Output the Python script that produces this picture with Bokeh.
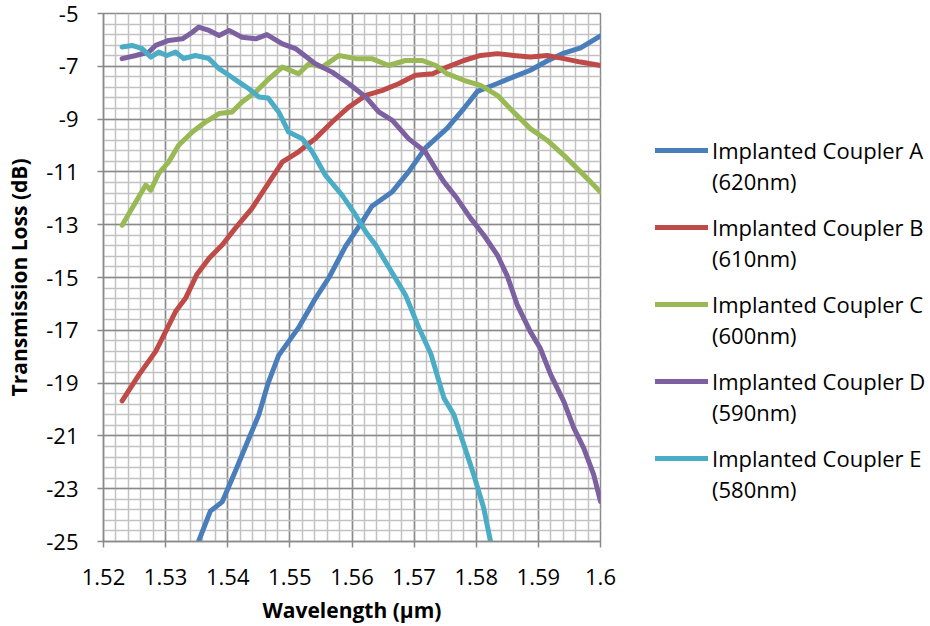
from bokeh.plotting import figure
from bokeh.layouts import row
from bokeh.models import FixedTicker, Legend, LegendItem, Range1d
from bokeh.embed import file_html
from bokeh.resources import INLINE

# ---- data ----
wl_A = [1.5353, 1.5372, 1.5391, 1.5412, 1.5434, 1.5450, 1.5465, 1.5482, 1.5514, 1.5541,
        1.5563, 1.5590, 1.5616, 1.5632, 1.5665, 1.5691, 1.5718, 1.5753, 1.5780, 1.5802,
        1.5834, 1.5860, 1.5887, 1.5914, 1.5941, 1.5968, 1.6000]
loss_A = [-25.0, -23.85, -23.5, -22.35, -21.1, -20.2, -19.0, -17.95, -16.9, -15.8,
          -15.0, -13.8, -12.9, -12.3, -11.75, -11.0, -10.1, -9.35, -8.6, -7.95,
          -7.65, -7.4, -7.15, -6.8, -6.5, -6.3, -5.85]

wl_B = [1.5230, 1.5257, 1.5284, 1.5300, 1.5316, 1.5332, 1.5350, 1.5370, 1.5391, 1.5412,
        1.5439, 1.5469, 1.5488, 1.5514, 1.5541, 1.5568, 1.5595, 1.5622, 1.5649, 1.5675,
        1.5702, 1.5730, 1.5753, 1.5780, 1.5807, 1.5834, 1.5860, 1.5887, 1.5914, 1.5941,
        1.5968, 1.6000]
loss_B = [-19.67, -18.69, -17.8, -17.05, -16.29, -15.79, -14.9, -14.27, -13.77, -13.14,
          -12.38, -11.3, -10.62, -10.24, -9.74, -9.11, -8.54, -8.1, -7.91, -7.66,
          -7.34, -7.28, -7.03, -6.78, -6.59, -6.52, -6.59, -6.65, -6.59, -6.71,
          -6.84, -6.97]

wl_C = [1.5230, 1.5246, 1.5268, 1.5276, 1.5289, 1.5305, 1.5321, 1.5343, 1.5364, 1.5386,
        1.5407, 1.5423, 1.5445, 1.5465, 1.5488, 1.5514, 1.5531, 1.5552, 1.5579, 1.5606,
        1.5632, 1.5659, 1.5686, 1.5713, 1.5735, 1.5753, 1.5780, 1.5807, 1.5834, 1.5860,
        1.5887, 1.5914, 1.5941, 1.5968, 1.6000]
loss_C = [-13.02, -12.38, -11.5, -11.69, -11.06, -10.62, -9.99, -9.49, -9.11, -8.79,
          -8.73, -8.35, -7.97, -7.5, -7.03, -7.28, -6.9, -7.03, -6.59, -6.71,
          -6.71, -6.97, -6.78, -6.78, -6.97, -7.28, -7.53, -7.72, -8.1, -8.73,
          -9.36, -9.8, -10.37, -11.0, -11.76]

wl_D = [1.5230, 1.5252, 1.5273, 1.5284, 1.5305, 1.5327, 1.5343, 1.5353, 1.5370, 1.5386,
        1.5402, 1.5423, 1.5445, 1.5463, 1.5488, 1.5509, 1.5541, 1.5568, 1.5595, 1.5622,
        1.5643, 1.5665, 1.5691, 1.5718, 1.5735, 1.5748, 1.5769, 1.5791, 1.5812, 1.5834,
        1.5850, 1.5866, 1.5887, 1.5903, 1.5920, 1.5941, 1.5957, 1.5973, 1.5989, 1.6000]
loss_D = [-6.71, -6.59, -6.46, -6.21, -6.02, -5.96, -5.71, -5.52, -5.64, -5.83,
          -5.64, -5.9, -5.96, -5.8, -6.15, -6.33, -6.9, -7.22, -7.66, -8.16,
          -8.73, -9.05, -9.74, -10.24, -10.9, -11.38, -12.0, -12.76, -13.39, -14.15,
          -14.95, -16.04, -17.05, -17.68, -18.69, -19.7, -20.7, -21.46, -22.47, -23.48]

wl_E = [1.5230, 1.5246, 1.5262, 1.5276, 1.5289, 1.5302, 1.5316, 1.5329, 1.5348, 1.5370,
        1.5386, 1.5402, 1.5418, 1.5434, 1.5450, 1.5465, 1.5482, 1.5498, 1.5520, 1.5536,
        1.5557, 1.5584, 1.5606, 1.5622, 1.5638, 1.5654, 1.5668, 1.5686, 1.5708, 1.5727,
        1.5748, 1.5764, 1.5780, 1.5796, 1.5812, 1.5823]
loss_E = [-6.27, -6.21, -6.33, -6.65, -6.46, -6.59, -6.46, -6.71, -6.59, -6.71,
          -7.09, -7.34, -7.6, -7.85, -8.16, -8.2, -8.73, -9.49, -9.74, -10.24,
          -11.12, -11.88, -12.64, -13.27, -13.77, -14.4, -14.95, -15.66, -16.92, -17.9,
          -19.57, -20.2, -21.33, -22.47, -23.73, -25.0]

series_names = ["Implanted Coupler A", "Implanted Coupler B", "Implanted Coupler C",
                "Implanted Coupler D", "Implanted Coupler E"]
series_widths = ["(620nm)", "(610nm)", "(600nm)", "(590nm)", "(580nm)"]
series_colors = ["#4A7EBB", "#BE4B48", "#98B954", "#7D60A0", "#4BACC6"]

x_ticks = [1.52, 1.53, 1.54, 1.55, 1.56, 1.57, 1.58, 1.59, 1.6]
x_tick_labels = ["1.52", "1.53", "1.54", "1.55", "1.56", "1.57", "1.58", "1.59", "1.6"]
y_ticks = [-25, -23, -21, -19, -17, -15, -13, -11, -9, -7, -5]
y_tick_labels = ["-25", "-23", "-21", "-19", "-17", "-15", "-13", "-11", "-9", "-7", "-5"]

x_minor = [round(1.52 + 0.002 * i, 4) for i in range(41)]
y_minor = [round(-25 + 0.4 * i, 2) for i in range(51)]

FONT = "Open Sans"
MAJOR = "#8A8A8A"
MINOR = "#C2C2C2"

H = 626
W_MAIN = 620
W_LEG = 305

p = figure(width=W_MAIN, height=H, output_backend="svg", toolbar_location=None,
           x_range=Range1d(1.52, 1.6), y_range=Range1d(-25, -5),
           min_border_left=103, min_border_right=W_MAIN - 600, min_border_top=13,
           min_border_bottom=H - 542)

p.background_fill_color = "white"
p.outline_line_color = MAJOR
p.outline_line_width = 1.5

xt = FixedTicker(ticks=x_ticks, minor_ticks=x_minor)
yt = FixedTicker(ticks=y_ticks, minor_ticks=y_minor)
p.xaxis.ticker = xt
p.yaxis.ticker = yt
p.xgrid.ticker = xt
p.ygrid.ticker = yt

for g in (p.xgrid, p.ygrid):
    g.grid_line_color = MAJOR
    g.grid_line_width = 1.5
    g.minor_grid_line_color = MINOR
    g.minor_grid_line_width = 1.5

p.xaxis.major_label_overrides = dict(zip(x_ticks, x_tick_labels))
p.yaxis.major_label_overrides = dict(zip(y_ticks, y_tick_labels))

for ax in (p.xaxis, p.yaxis):
    ax.axis_line_color = MAJOR
    ax.axis_line_width = 1.5
    ax.major_tick_line_color = MAJOR
    ax.major_tick_line_width = 1.5
    ax.major_tick_out = 6
    ax.major_tick_in = 0
    ax.minor_tick_out = 0
    ax.minor_tick_in = 0
    ax.major_label_text_font = FONT
    ax.major_label_text_font_size = "22px"
    ax.major_label_text_color = "black"
    ax.axis_label_text_font = FONT
    ax.axis_label_text_font_size = "21px"
    ax.axis_label_text_font_style = "bold"
    ax.axis_label_text_color = "black"

p.xaxis.axis_label = "Wavelength (µm)"
p.yaxis.axis_label = "Transmission Loss (dB)"
p.xaxis.major_label_standoff = 21
p.xaxis.axis_label_standoff = 8
p.yaxis.major_label_standoff = 19
p.yaxis.axis_label_standoff = 10

series = [(wl_A, loss_A), (wl_B, loss_B), (wl_C, loss_C), (wl_D, loss_D), (wl_E, loss_E)]
for (wl, loss), col in zip(series, series_colors):
    p.line(wl, loss, line_color=col, line_width=5, line_join="round", line_cap="round")

# ---- legend panel (separate canvas to the right of the plot) ----
# Its ranges lie far away from the data, so the series drawn here only feed
# the legend swatches and stay out of sight.
q = figure(width=W_LEG, height=H, output_backend="svg", toolbar_location=None,
           x_range=Range1d(0, 1), y_range=Range1d(0, 1),
           x_axis_location=None, y_axis_location=None, min_border=0)
q.grid.visible = False
q.outline_line_color = None

sw_renderers = [q.line(wl, loss, line_color=c, line_width=5, line_cap="round")
                for (wl, loss), c in zip(series, series_colors)]
blank_renderers = [q.line(wl, loss, line_alpha=0) for (wl, loss) in series]

leg_common = dict(glyph_width=53, glyph_height=30, label_height=30, label_standoff=4,
                  spacing=47, padding=0, margin=0, border_line_color=None,
                  background_fill_alpha=0, label_text_font=FONT,
                  label_text_font_size="22px", label_text_color="black")

leg_names = Legend(items=[LegendItem(label=n, renderers=[r]) for n, r in zip(series_names, sw_renderers)],
                   location=(35, 68), **leg_common)
leg_widths = Legend(items=[LegendItem(label=n, renderers=[r]) for n, r in zip(series_widths, blank_renderers)],
                    location=(35, 37), **leg_common)
q.add_layout(leg_names)
q.add_layout(leg_widths)

layout = row(p, q)
open("out.html", "w").write(file_html(layout, INLINE))
